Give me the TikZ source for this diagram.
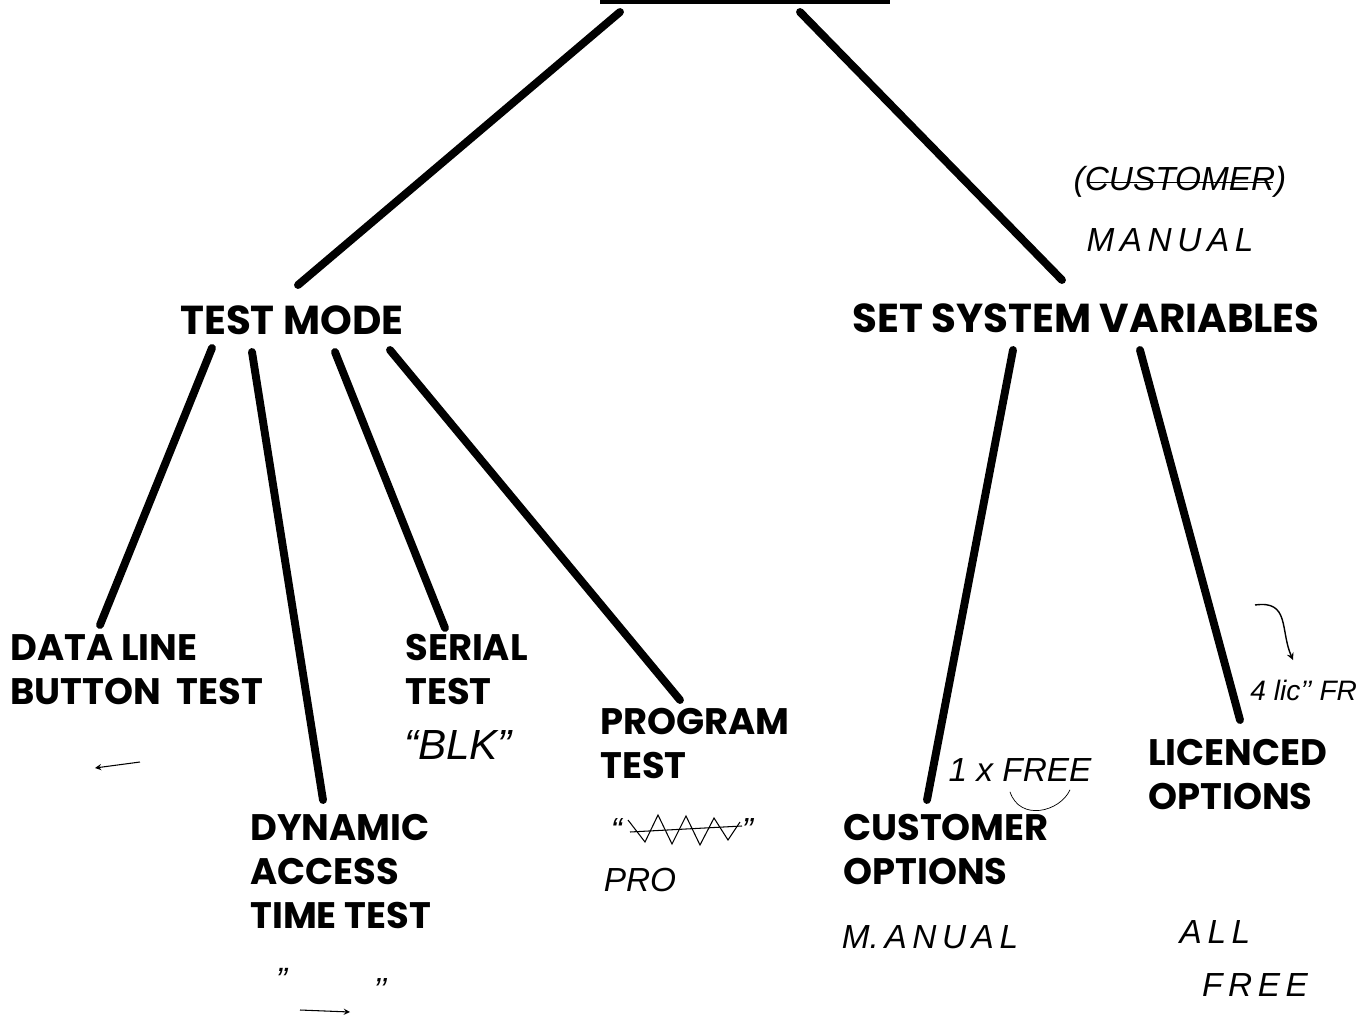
\documentclass[tikz,border=0pt]{standalone}
\usepackage{fontspec}
\setmainfont{Poppins}
\newfontfamily\hand{Liberation Sans}
\usetikzlibrary{arrows,positioning}
\tikzset{
    branch/.style={line width=4.5pt,line cap=round},
    item/.style={align=left,inner sep=0pt,font=\bfseries\fontsize{21}{25}\selectfont},
    head/.style={inner sep=0pt,font=\bfseries\fontsize{23}{26}\selectfont},
    note/.style={inner sep=0pt,font=\hand\itshape\fontsize{19}{22}\selectfont},
    pen/.style={->,semithick,>=stealth}
}

\begin{document}
\begin{tikzpicture}[x=0.02cm,y=-0.02cm]
    \useasboundingbox (0,0) rectangle (1367,1022);

    % top of the tree
    \coordinate (rule a) at (600,2);
    \coordinate (rule b) at (890,2);
    \draw[line width=2pt] (rule a) -- (rule b);
    \coordinate (root l) at (620,12);
    \coordinate (root r) at (800,12);

    % main branches
    \node[head,anchor=west] (testmode) at (180,320) {TEST MODE};
    \node[head,anchor=west] (setsys)   at (852,318) {SET SYSTEM VARIABLES};

    \draw[branch] (root l) -- ([shift={(118,-35)}]testmode.west);
    \draw[branch] (root r) -- ([shift={(210,-38)}]setsys.west);

    % tests
    \node[item,anchor=north west] (dataline) at (10,634)  {DATA LINE\\BUTTON\ \ TEST};
    \node[item,anchor=north west] (dynamic)  at (250,814) {DYNAMIC\\ACCESS\\TIME TEST};
    \node[item,anchor=north west] (serial)   at (405,634) {SERIAL\\TEST};
    \node[item,anchor=north west] (program)  at (600,708) {PROGRAM\\TEST};

    \draw[branch] ([shift={(32,28)}]testmode.west)  -- ([shift={(90,-9)}]dataline.north west);
    \draw[branch] ([shift={(72,32)}]testmode.west)  -- ([shift={(73,-14)}]dynamic.north west);
    \draw[branch] ([shift={(155,32)}]testmode.west) -- ([shift={(40,-6)}]serial.north west);
    \draw[branch] ([shift={(210,30)}]testmode.west) -- ([shift={(80,-8)}]program.north west);

    % options
    \node[item,anchor=north west] (customer) at (843,814)  {CUSTOMER\\OPTIONS};
    \node[item,anchor=north west] (licenced) at (1148,739) {LICENCED\\OPTIONS};

    \draw[branch] ([shift={(161,32)}]setsys.west) -- ([shift={(84,-14)}]customer.north west);
    \draw[branch] ([shift={(288,32)}]setsys.west) -- ([shift={(92,-19)}]licenced.north west);

    % pencil notes
    \node[note] (oldname) at (1180,182) {(CUSTOMER)};
    \draw[thin] ([xshift=8]oldname.west) -- ([xshift=-8]oldname.east);
    \node[note] (newname) at (1170,240) {M\,A\,N\,U\,A\,L};

    \node[note,font=\hand\itshape\fontsize{24}{26}\selectfont] (blk) at (458,745) {“BLK”};

    \node[note] (scrib) at (682,830) {“\hspace{2.4cm}”};
    \draw[semithick] (628,820) -- (645,842) -- (658,815) -- (672,844) -- (686,816) -- (700,845) -- (714,818) -- (728,840) -- (740,822);
    \draw[semithick] (630,832) -- (742,826);
    \node[note] (prog) at (640,880) {PRO};

    \node[note] (onefree) at (1020,770) {1 x FREE};
    \draw[thin] ([shift={(-10,10)}]onefree.south) .. controls ([shift={(0,40)}]onefree.south) and ([shift={(40,30)}]onefree.south) .. ([shift={(50,8)}]onefree.south);

    \node[note,anchor=west,font=\hand\itshape\fontsize{16}{18}\selectfont] (fourlic) at (1250,690) {4 lic’’ FR};
    \coordinate (hook a) at (1255,605);
    \coordinate (hook b) at (1293,660);
    \draw[pen,thick] (hook a) .. controls (1290,600) and (1280,630) .. (hook b);

    \node[note] (manual) at (930,937) {M.\,A\,N\,U\,A\,L};
    \node[note] (all)  at (1215,932) {A\,L\,L};
    \node[note] (free) at (1255,985) {F\,R\,E\,E};

    \coordinate (back a) at (140,762);
    \coordinate (back b) at (95,768);
    \draw[pen] (back a) -- (back b);

    \node[note] (ditto l) at (285,972) {„};
    \node[note] (ditto r) at (380,990) {’’};
    \coordinate (fwd a) at (300,1010);
    \coordinate (fwd b) at (350,1012);
    \draw[pen] (fwd a) -- (fwd b);

\end{tikzpicture}
\end{document}
